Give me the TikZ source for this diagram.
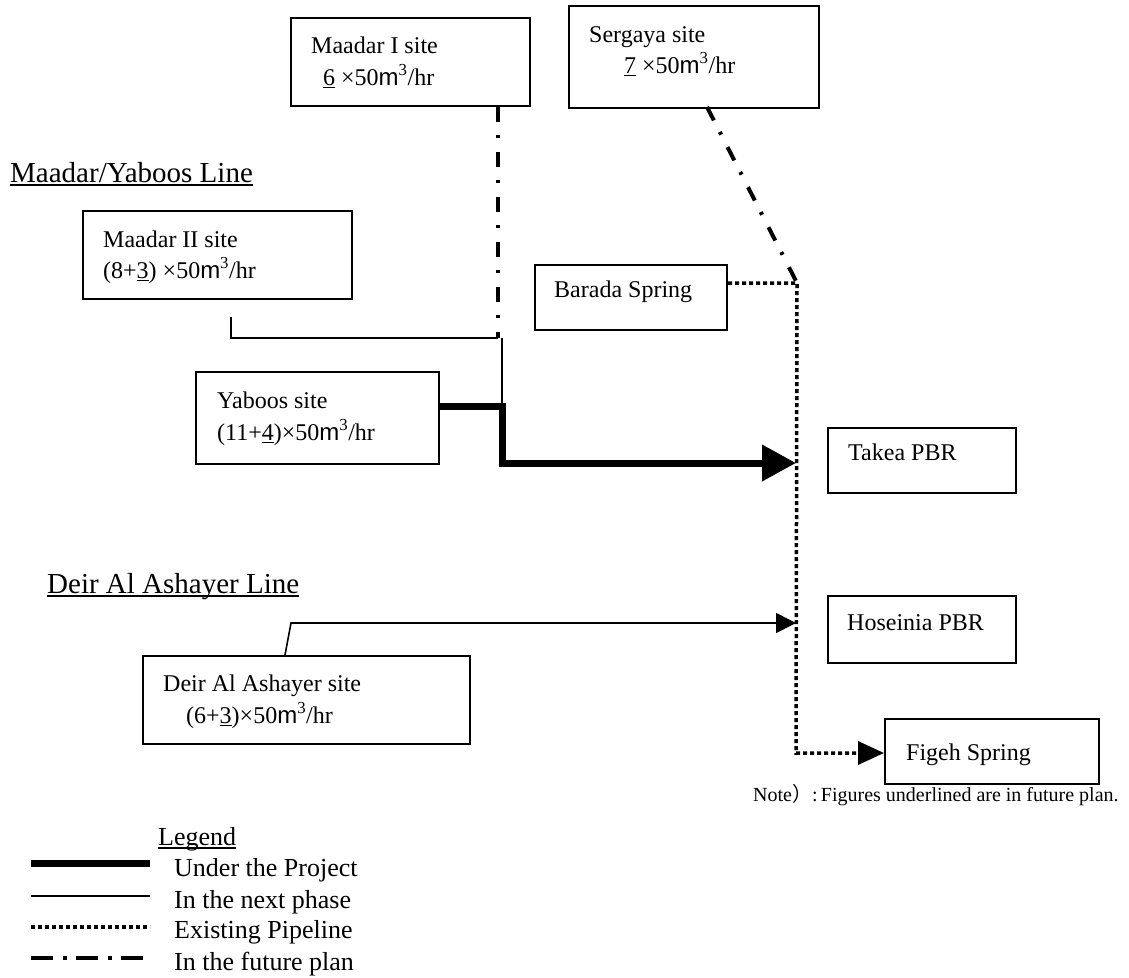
\documentclass[tikz,border=0pt]{standalone}
\usepackage{fontspec}
\setmainfont{Liberation Serif}
\newfontfamily\msans{Liberation Sans}
\newfontfamily\cjk{Noto Sans CJK JP}
\usetikzlibrary{arrows.meta}
\newcommand\mcubic{{\msans m}\textsuperscript{3}}
\newlength\ulw
\newcommand\ulin[1]{\settowidth\ulw{#1}\rlap{\rule[-3.5pt]{\ulw}{1.5pt}}#1}
\newcommand\uldig[1]{\settowidth\ulw{#1}\rlap{\rule[-3pt]{\ulw}{1.1pt}}#1}
\begin{document}
\begin{tikzpicture}[x=1pt,y=-1pt,
  box/.style={draw,line width=2pt,inner sep=0pt,anchor=north west},
  lbl/.style={inner sep=0pt,anchor=base west,font=\fontsize{24}{28}\selectfont},
  head/.style={inner sep=0pt,anchor=base west,font=\fontsize{29}{34}\selectfont},
  leg/.style={inner sep=0pt,anchor=base west,font=\fontsize{26}{30}\selectfont},
  notestyle/.style={inner sep=0pt,anchor=base west,font=\fontsize{20}{24}\selectfont},
  project/.style={line width=7pt},
  nextphase/.style={line width=1.6pt},
  existing/.style={line width=3.5pt,dash pattern=on 4pt off 3pt},
  future/.style={line width=4pt,dash pattern=on 15pt off 13pt on 3pt off 14pt},
]
\useasboundingbox (0,0) rectangle (1129,977);

% boxes
\node[box,minimum width=239pt,minimum height=88pt] (m1) at (290,17) {};
\node[box,minimum width=250pt,minimum height=102pt] (sg) at (568,5) {};
\node[box,minimum width=269pt,minimum height=88pt] (m2) at (82,210) {};
\node[box,minimum width=192pt,minimum height=65pt] (bar) at (534,264) {};
\node[box,minimum width=243pt,minimum height=92pt] (yab) at (195,371) {};
\node[box,minimum width=188pt,minimum height=65pt] (tak) at (827,427) {};
\node[box,minimum width=188pt,minimum height=67pt] (hos) at (827,595) {};
\node[box,minimum width=327pt,minimum height=88pt] (deir) at (142,655) {};
\node[box,minimum width=214pt,minimum height=65pt] (fig) at (884,718) {};

% box texts
\node[lbl] (m1a) at (311,53) {Maadar I site};
\node[lbl] (m1b) at (323,85) {\uldig{6} ×50\mcubic/hr};
\node[lbl] (sga) at (589,42) {Sergaya site};
\node[lbl] (sgb) at (624,73) {\uldig{7} ×50\mcubic/hr};
\node[lbl] (m2a) at (103,247) {Maadar II site};
\node[lbl] (m2b) at (103,278) {(8+\uldig{3}) ×50\mcubic/hr};
\node[lbl] (bara) at (554,297) {Barada Spring};
\node[lbl] (yaba) at (217,408) {Yaboos site};
\node[lbl] (yabb) at (217,440) {(11+\uldig{4})×50\mcubic/hr};
\node[lbl] (taka) at (848,460) {Takea PBR};
\node[lbl] (hosa) at (847,630) {Hoseinia PBR};
\node[lbl] (deira) at (163,691) {Deir Al Ashayer site};
\node[lbl] (deirb) at (186,723) {(6+\uldig{3})×50\mcubic/hr};
\node[lbl] (figa) at (906,760) {Figeh Spring};

% headings
\node[head] (h1) at (10,182) {\ulin{Maadar/Yaboos Line}};
\node[head] (h2) at (47,593) {\ulin{Deir Al Ashayer Line}};

% note
\node[notestyle] (note) at (753,801) {Note{\cjk ）}:\,Figures underlined are in future plan.};

% junction coordinates
\coordinate (jA) at (498,338);
\coordinate (m2s) at (231,317);
\coordinate (jB) at (502,338);
\coordinate (jC) at (502,406);
\coordinate (jD) at (502,463);
\coordinate (pT) at (796,463);
\coordinate (corner) at (797,283);
\coordinate (pF) at (796,753);
\coordinate (dTop) at (285,655);
\coordinate (dA) at (291,623);
\coordinate (pH) at (796,623);
\coordinate (sgS) at (707,107);

% connectors
\draw[future] (m1.south -| jA) -- (jA);
\draw[future] (sgS) -- (corner);
\draw[nextphase] (m2s) -- (m2s |- jA) -- (jA);
\draw[nextphase] (jB) -- (jC);
\draw[project,-{Triangle[length=34pt,width=35pt]}] (yab.east |- jC) -- (jC) -- (jD) -- (pT);
\draw[existing,-{Triangle[length=26pt,width=23pt]}] (bar.east |- corner) -- (corner) -- (pF) -- (fig.west |- pF);
\draw[nextphase,-{Triangle[length=20pt,width=20pt]}] (dTop) -- (dA) -- (pH);

% legend
\node[leg] (legt) at (158,845) {\ulin{Legend}};
\coordinate (La1) at (31,863); \coordinate (La2) at (150,863);
\coordinate (Lb1) at (31,896); \coordinate (Lb2) at (150,896);
\coordinate (Lc1) at (31,927); \coordinate (Lc2) at (150,927);
\coordinate (Ld1) at (31,958); \coordinate (Ld2) at (150,958);
\draw[project] (La1) -- (La2);
\draw[nextphase] (Lb1) -- (Lb2);
\draw[existing] (Lc1) -- (Lc2);
\draw[future,dash pattern=on 22pt off 10pt on 4pt off 9pt] (Ld1) -- (Ld2);
\node[leg] (lega) at (174,876) {Under the Project};
\node[leg] (legb) at (174,908) {In the next phase};
\node[leg] (legc) at (174,938) {Existing Pipeline};
\node[leg] (legd) at (174,970) {In the future plan};
\end{tikzpicture}
\end{document}
